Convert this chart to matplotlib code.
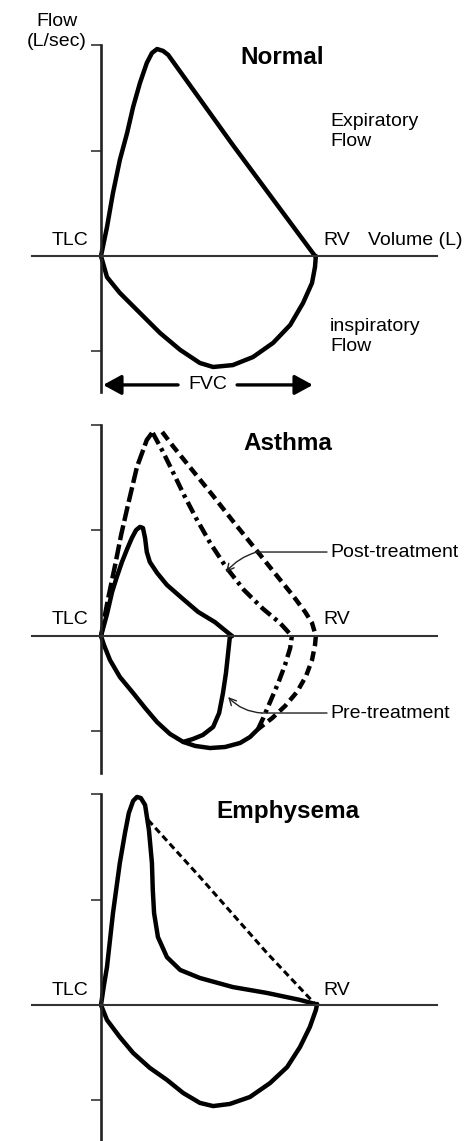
import matplotlib
matplotlib.use("Agg")
import matplotlib.pyplot as plt

plt.rcParams['font.family'] = ['Liberation Sans', 'DejaVu Sans']

# volume (L) / flow (L/sec)
normal_exp_v = [0, 0.14, 0.28, 0.44, 0.61, 0.75, 0.91, 1.07, 1.19, 1.31, 1.45, 1.57, 3.08, 5.0]
normal_exp_f = [0, 1.37, 2.99, 4.55, 5.83, 7.06, 8.20, 9.15, 9.62, 9.81, 9.72, 9.53, 5.26, 0]
normal_insp_v = [0, 0.14, 0.44, 0.91, 1.38, 1.85, 2.31, 2.62, 3.08, 3.55, 4.02, 4.42, 4.72, 4.93, 5.0, 5.02]
normal_insp_f = [0, -1.00, -1.75, -2.70, -3.65, -4.45, -5.07, -5.26, -5.17, -4.79, -4.12, -3.27, -2.23, -1.28, -0.52, 0]

pre_exp_v = [0, 0.14, 0.26, 0.37, 0.49, 0.61, 0.72, 0.82, 0.91, 0.98, 1.03, 1.07, 1.14, 1.31, 1.54, 1.89, 2.27, 2.66, 3.06]
pre_exp_f = [0, 1.04, 2.09, 2.80, 3.51, 4.12, 4.64, 5.02, 5.17, 5.12, 4.64, 3.98, 3.51, 2.99, 2.42, 1.80, 1.14, 0.66, 0]
pre_insp_v = [0, 0.07, 0.21, 0.44, 0.75, 1.03, 1.31, 1.61, 1.92, 2.15, 2.38, 2.62, 2.76, 2.85, 2.92, 2.97, 3.01, 3.06]
pre_insp_f = [0, -0.43, -1.14, -1.94, -2.70, -3.41, -4.08, -4.64, -5.02, -4.88, -4.69, -4.31, -3.65, -2.70, -1.75, -0.81, -0.05, 0]

post_base_v = [1.92, 2.20, 2.55, 2.90, 3.25, 3.48, 3.67]
post_base_f = [-5.02, -5.21, -5.31, -5.26, -5.07, -4.79, -4.41]
post_rise_v = [0, 0.16, 0.33, 0.47, 0.63, 0.84, 1.07, 1.19]
post_rise_f = [0, 1.71, 3.36, 4.79, 6.21, 8.01, 9.29, 9.62]
post_dd_v = [1.21, 1.45, 1.68, 1.94, 2.22, 2.55, 2.92, 3.34, 3.79, 4.18, 4.46,
             4.42, 4.30, 4.14, 3.95, 3.79, 3.67]
post_dd_f = [9.62, 8.72, 7.77, 6.68, 5.59, 4.41, 3.27, 2.18, 1.28, 0.62, 0,
             -0.57, -1.37, -2.23, -3.13, -3.89, -4.41]
post_da_v = [1.43, 1.68, 2.15, 2.62, 3.08, 3.55, 4.02, 4.49, 4.77, 4.93, 5.02,
             5.0, 4.93, 4.79, 4.58, 4.30, 4.0, 3.67]
post_da_f = [9.67, 9.00, 7.82, 6.64, 5.45, 4.27, 3.08, 1.90, 1.14, 0.62, 0,
             -0.43, -1.14, -1.90, -2.65, -3.32, -3.89, -4.41]

emph_exp_v = [0, 0.07, 0.14, 0.28, 0.44, 0.56, 0.65, 0.75, 0.84, 0.93, 1.03, 1.12, 1.19, 1.21, 1.24,
              1.33, 1.54, 1.85, 2.31, 3.08, 3.88, 4.65, 5.0]
emph_exp_f = [0, 0.95, 1.80, 4.36, 6.73, 8.15, 9.10, 9.67, 9.86, 9.81, 9.48, 8.29, 6.73, 5.45, 4.36,
              3.22, 2.27, 1.66, 1.28, 0.85, 0.57, 0.24, 0.05]
emph_dash_v = [1.10, 2.31, 3.88, 5.0]
emph_dash_f = [8.77, 6.07, 2.46, 0.05]
emph_insp_v = [0, 0.14, 0.44, 0.75, 1.14, 1.54, 1.92, 2.31, 2.62, 3.01, 3.48, 3.95, 4.35, 4.65, 4.88, 5.02, 5.05]
emph_insp_f = [0, -0.71, -1.52, -2.27, -2.98, -3.55, -4.17, -4.64, -4.79, -4.69, -4.36, -3.70, -2.94, -1.99, -1.04, -0.24, 0.05]

yticks = [10, 5, -4.5]

W, H = 472, 1141
fig = plt.figure(figsize=(W / 100, H / 100), dpi=100)

sx, sy = 42.8, 21.1  # px per L, px per L/sec
x0 = 101


def make_axes(top, bottom, y0, ybot):
    ax = fig.add_axes([0, 1 - bottom / H, 1, (bottom - top) / H])
    ax.set_xlim(-x0 / sx, (W - x0) / sx)
    ax.set_ylim((y0 - bottom) / sy, (y0 - top) / sy)
    for s in ['top', 'right']:
        ax.spines[s].set_visible(False)
    ax.spines['left'].set_position(('data', 0))
    ax.spines['bottom'].set_position(('data', 0))
    ax.spines['left'].set_bounds(ybot, 10)
    ax.spines['bottom'].set_bounds(-1.61, 7.85)
    ax.spines['left'].set_linewidth(1.9)
    ax.spines['bottom'].set_linewidth(1.5)
    ax.spines['left'].set_color('#222222')
    ax.spines['bottom'].set_color('#333333')
    ax.set_xticks([])
    ax.set_yticks(yticks)
    ax.tick_params(axis='y', direction='out', length=7.2, width=1.1, labelleft=False, color='#222222')
    ax.patch.set_visible(False)
    return ax


solid = dict(color='black', lw=3.2, solid_capstyle='round', solid_joinstyle='round')
fs = 14

# ---- Normal
ax1 = make_axes(0, 400, 256, -6.45)
ax1.plot(normal_exp_v, normal_exp_f, **solid)
ax1.plot(normal_insp_v, normal_insp_f, **solid)
ax1.text(-1.03, 10.64, "Flow\n(L/sec)", ha='center', va='center', fontsize=fs, linespacing=1.2)
ax1.text(4.23, 9.43, "Normal", ha='center', va='center', fontsize=17.5, fontweight='bold')
ax1.text(5.35, 5.90, "Expiratory\nFlow", ha='left', va='center', fontsize=fs, linespacing=1.2)
ax1.text(5.35, -3.81, "inspiratory\nFlow", ha='left', va='center', fontsize=fs, linespacing=1.2)
ax1.text(-0.72, 0.73, "TLC", ha='center', va='center', fontsize=fs)
ax1.text(5.19, 0.73, "RV", ha='left', va='center', fontsize=fs)
ax1.text(6.24, 0.73, "Volume (L)", ha='left', va='center', fontsize=fs)
ax1.text(2.5, -6.11, "FVC", ha='center', va='center', fontsize=fs)
arw = dict(arrowstyle='-|>,head_length=0.55,head_width=0.3', lw=2.4, color='black',
           mutation_scale=20, shrinkA=0, shrinkB=0)
ax1.annotate('', xy=(0.05, -6.11), xytext=(1.80, -6.11), arrowprops=arw)
ax1.annotate('', xy=(4.95, -6.11), xytext=(3.18, -6.11), arrowprops=arw)

# ---- Asthma
ax2 = make_axes(400, 780, 636, -6.49)
ax2.plot(post_base_v, post_base_f, **solid)
ax2.plot(post_rise_v, post_rise_f, color='black', lw=3.2, linestyle=(0, (3.4, 1.0)))
ax2.plot(post_dd_v, post_dd_f, color='black', lw=3.2, linestyle=(0, (2.8, 1.1, 0.8, 1.1)))
ax2.plot(post_da_v, post_da_f, color='black', lw=3.2, linestyle=(0, (2.2, 1.2)))
ax2.plot(pre_exp_v, pre_exp_f, **solid)
ax2.plot(pre_insp_v, pre_insp_f, **solid)
ax2.text(4.37, 9.10, "Asthma", ha='center', va='center', fontsize=17.5, fontweight='bold')
ax2.text(-0.72, 0.76, "TLC", ha='center', va='center', fontsize=fs)
ax2.text(5.19, 0.76, "RV", ha='left', va='center', fontsize=fs)
ax2.text(5.35, 3.98, "Post-treatment", ha='left', va='center', fontsize=fs)
ax2.text(5.35, -3.65, "Pre-treatment", ha='left', va='center', fontsize=fs)
lead = dict(arrowstyle='-', lw=1.0, color='#222222', shrinkA=0, shrinkB=0)
ax2.annotate('', xy=(3.64, 3.98), xytext=(5.28, 3.98), arrowprops=lead)
ax2.annotate('', xy=(2.92, 3.03), xytext=(3.64, 3.98),
             arrowprops=dict(arrowstyle='->,head_length=0.5,head_width=0.25', lw=1.0, color='#222222',
                             shrinkA=0, shrinkB=0, connectionstyle='arc3,rad=0.15'))
ax2.annotate('', xy=(3.76, -3.65), xytext=(5.28, -3.65), arrowprops=lead)
ax2.annotate('', xy=(2.97, -2.89), xytext=(3.76, -3.65),
             arrowprops=dict(arrowstyle='->,head_length=0.5,head_width=0.25', lw=1.0, color='#222222',
                             shrinkA=0, shrinkB=0, connectionstyle='arc3,rad=-0.2'))

# ---- Emphysema
ax3 = make_axes(780, 1141, 1005, -6.45)
ax3.plot(emph_dash_v, emph_dash_f, color='black', lw=2.2, linestyle=(0, (2.2, 1.3)))
ax3.plot(emph_exp_v, emph_exp_f, **solid)
ax3.plot(emph_insp_v, emph_insp_f, **solid)
ax3.text(4.37, 9.15, "Emphysema", ha='center', va='center', fontsize=17.5, fontweight='bold')
ax3.text(-0.72, 0.71, "TLC", ha='center', va='center', fontsize=fs)
ax3.text(5.19, 0.71, "RV", ha='left', va='center', fontsize=fs)

fig.savefig("out.png", dpi=100, facecolor='white')
